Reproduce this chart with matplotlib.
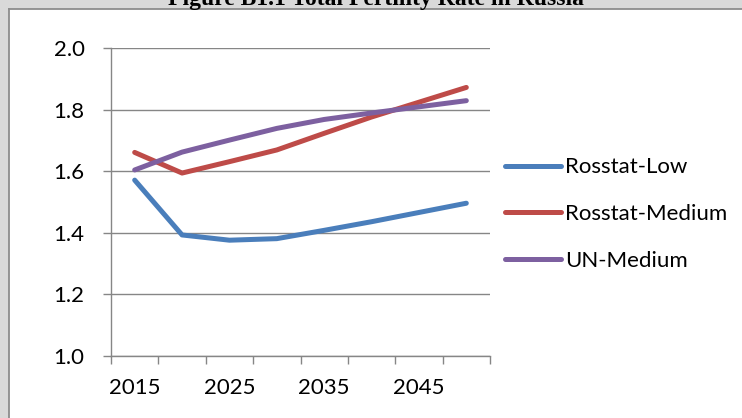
import matplotlib
matplotlib.use("Agg")
import matplotlib.pyplot as plt
from matplotlib.patches import Rectangle
from matplotlib.lines import Line2D
import numpy as np

years = [2015, 2020, 2025, 2030, 2035, 2040, 2045, 2050]
tick_labels = ["2015", "", "2025", "", "2035", "", "2045", ""]
rosstat_low = [1.571, 1.393, 1.376, 1.381, 1.408, 1.436, 1.466, 1.496]
rosstat_medium = [1.661, 1.594, 1.631, 1.669, 1.723, 1.776, 1.824, 1.872]
un_medium = [1.604, 1.662, 1.701, 1.739, 1.768, 1.789, 1.809, 1.829]
series_names = ["Rosstat-Low", "Rosstat-Medium", "UN-Medium"]
colors = ["#4A7EBB", "#BE4B48", "#7D60A0"]
title = "Figure B1.1 Total Fertility Rate in Russia"

W, H = 742, 418
fig = plt.figure(figsize=(W / 100, H / 100), dpi=100)
fig.patch.set_facecolor("white")
# gray page strips (top and left) around the white chart box
top_y = (H - 9) / H
left_x = 9 / W
fig.patches.append(Rectangle((0, top_y), 1.0, 1 - top_y, transform=fig.transFigure,
                             facecolor="#d9d9d9", edgecolor="none", zorder=-5))
fig.patches.append(Rectangle((0, 0), left_x, 1.0, transform=fig.transFigure,
                             facecolor="#d9d9d9", edgecolor="none", zorder=-5))
fig.lines.append(Line2D([left_x, 1.0], [top_y, top_y], transform=fig.transFigure,
                        color="#8c8c8c", lw=1.3, zorder=-4))
fig.lines.append(Line2D([left_x, left_x], [0, top_y], transform=fig.transFigure,
                        color="#8c8c8c", lw=1.3, zorder=-4))
fig.text(376 / W, (H - 4.5) / H, title, ha="center", va="baseline",
         fontsize=17, fontweight="bold", family="Liberation Serif", color="black")

ax = fig.add_axes([111 / W, (H - 356) / H, (490 - 111) / W, (356 - 48) / H])
ax.set_zorder(2)
ax.patch.set_alpha(0)
x = np.arange(len(years))
for vals, name, c in zip([rosstat_low, rosstat_medium, un_medium], series_names, colors):
    ax.plot(x, vals, color=c, lw=3.6, solid_capstyle="round",
            solid_joinstyle="round", label=name, zorder=3)

ax.set_xlim(-0.5, len(years) - 0.5)
ax.set_ylim(1.0, 2.0)
yt = np.arange(1.0, 2.01, 0.2)
ax.set_yticks(yt)
ax.set_yticklabels([f"{v:.1f}" for v in yt])
ax.set_xticks(x)
ax.set_xticklabels(tick_labels)
ax.set_xticks(np.arange(-0.5, len(years), 1.0), minor=True)

ax.grid(axis="y", color="#868686", lw=1.0, zorder=1)
for s in ["top", "right"]:
    ax.spines[s].set_visible(False)
for s in ["left", "bottom"]:
    ax.spines[s].set_color("#868686")
    ax.spines[s].set_linewidth(1.0)

ax.tick_params(axis="y", length=6, width=1.0, color="#868686", pad=13, labelsize=16)
ax.tick_params(axis="x", which="major", length=0, pad=16, labelsize=16)
ax.tick_params(axis="x", which="minor", length=6, width=1.0, color="#868686")
for lab in ax.get_xticklabels() + ax.get_yticklabels():
    lab.set_family("Lato")

leg = fig.legend(loc="center left", bbox_to_anchor=(505 / W, (H - 214) / H),
                 frameon=False, prop={"family": "Lato", "size": 16},
                 handlelength=2.5, handletextpad=0.2, labelspacing=1.2,
                 borderpad=0, borderaxespad=0)

fig.savefig("out.png", dpi=100, facecolor=fig.get_facecolor())
